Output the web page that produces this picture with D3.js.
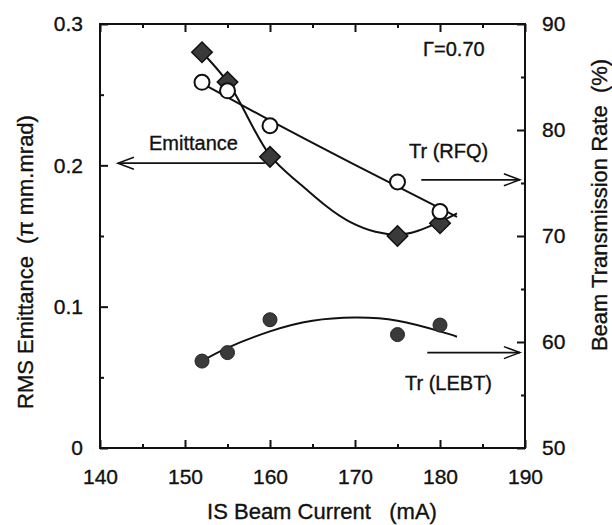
<!DOCTYPE html>
<html>
<head>
<meta charset="utf-8">
<script src="https://cdn.jsdelivr.net/npm/d3@7"></script>
<style>
  body { margin: 0; background: #fff; }
  svg text { font-family: "Liberation Sans", Arial, sans-serif; fill: #111; stroke: #111; stroke-width: 0.35px; }
</style>
</head>
<body>
<div id="content"></div>
<script>
// Chart data
const current = [152, 155, 160, 175, 180];          // IS beam current (mA)
const emittance = [0.280, 0.259, 0.206, 0.150, 0.159]; // RMS emittance (pi mm.mrad)
const trRFQ = [84.5, 83.7, 80.4, 75.1, 72.3];          // transmission RFQ (%)
const trLEBT = [58.2, 59.0, 62.1, 60.7, 61.6];         // transmission LEBT (%)

// hand drawn fit curves as they appear in the picture
const emitFitX = [152, 155, 160, 163.5, 169.4, 172.4, 175, 180, 182];
const emitFitY = [0.280, 0.259, 0.207, 0.187, 0.160, 0.153, 0.151, 0.160, 0.166];
const rfqFitX = [152, 160, 170, 182];
const rfqFitY = [84.4, 80.9, 76.7, 71.8];
const lebtFitX = [152, 155, 160, 165, 170, 175, 180, 182];
const lebtFitY = [58.2, 59.45, 61.0, 62.0, 62.3, 62.0, 61.0, 60.5];

const xTicks = [140, 150, 160, 170, 180, 190];
const leftTicks = [0, 0.1, 0.2, 0.3];
const rightTicks = [50, 60, 70, 80, 90];

const WIDTH = 612, HEIGHT = 525;
const X0 = 100, X1 = 525, Y0 = 448, Y1 = 24;

const svg = d3.select("#content").append("svg")
    .attr("width", WIDTH).attr("height", HEIGHT);

const x = d3.scaleLinear().domain([140, 190]).range([X0, X1]);
const yL = d3.scaleLinear().domain([0, 0.3]).range([Y0, Y1]);
const yR = d3.scaleLinear().domain([50, 90]).range([Y0, Y1]);

function styleAxis(g) {
    g.select(".domain").remove();
    g.selectAll("line").attr("stroke", "#111").attr("stroke-width", 2);
    g.selectAll("text").style("font-size", "21px").attr("fill", "#111");
}

// major + minor ticks, all pointing inward
svg.append("g").attr("transform", `translate(0,${Y0})`)
    .call(d3.axisBottom(x).tickValues(xTicks).tickSizeInner(-8).tickSizeOuter(0).tickPadding(21))
    .call(styleAxis);
svg.append("g").attr("transform", `translate(0,${Y0})`)
    .call(d3.axisBottom(x).tickValues([145, 155, 165, 175, 185]).tickSize(-4).tickFormat(""))
    .call(styleAxis);
svg.append("g").attr("transform", `translate(0,${Y1})`)
    .call(d3.axisTop(x).tickValues(xTicks).tickSize(-8).tickFormat(""))
    .call(styleAxis);
svg.append("g").attr("transform", `translate(0,${Y1})`)
    .call(d3.axisTop(x).tickValues([145, 155, 165, 175, 185]).tickSize(-4).tickFormat(""))
    .call(styleAxis);

svg.append("g").attr("transform", `translate(${X0},0)`)
    .call(d3.axisLeft(yL).tickValues(leftTicks).tickSizeInner(-8).tickSizeOuter(0).tickPadding(17)
        .tickFormat(d => d === 0 ? "0" : d3.format(".1f")(d)))
    .call(styleAxis);
svg.append("g").attr("transform", `translate(${X0},0)`)
    .call(d3.axisLeft(yL).tickValues([0.05, 0.15, 0.25]).tickSize(-4).tickFormat(""))
    .call(styleAxis);

svg.append("g").attr("transform", `translate(${X1},0)`)
    .call(d3.axisRight(yR).tickValues(rightTicks).tickSizeInner(-8).tickSizeOuter(0).tickPadding(17))
    .call(styleAxis);
svg.append("g").attr("transform", `translate(${X1},0)`)
    .call(d3.axisRight(yR).tickValues([55, 65, 75, 85]).tickSize(-4).tickFormat(""))
    .call(styleAxis);

// frame
svg.append("rect")
    .attr("x", X0).attr("y", Y1).attr("width", X1 - X0).attr("height", Y0 - Y1)
    .attr("fill", "none").attr("stroke", "#111").attr("stroke-width", 2);

// fit curves
const curve = d3.curveMonotoneX;
svg.append("path")
    .attr("d", d3.line().curve(curve)(emitFitX.map((v, i) => [x(v), yL(emitFitY[i])])))
    .attr("fill", "none").attr("stroke", "#111").attr("stroke-width", 2);
svg.append("path")
    .attr("d", d3.line().curve(curve)(rfqFitX.map((v, i) => [x(v), yR(rfqFitY[i])])))
    .attr("fill", "none").attr("stroke", "#111").attr("stroke-width", 2);
svg.append("path")
    .attr("d", d3.line().curve(d3.curveNatural)(lebtFitX.map((v, i) => [x(v), yR(lebtFitY[i])])))
    .attr("fill", "none").attr("stroke", "#111").attr("stroke-width", 2);

// markers
svg.append("g").selectAll("path")
    .data(current)
    .enter()
    .append("path")
    .attr("transform", (d, i) => `translate(${x(d)},${yL(emittance[i])}) rotate(45)`)
    .attr("d", d3.symbol(d3.symbolSquare, 210))
    .attr("fill", "#3a3a3a").attr("stroke", "#111").attr("stroke-width", 1.5);

svg.append("g").selectAll("circle")
    .data(current)
    .enter()
    .append("circle")
    .attr("cx", d => x(d))
    .attr("cy", (d, i) => yR(trRFQ[i]))
    .attr("r", 7.5)
    .attr("fill", "#fff").attr("stroke", "#111").attr("stroke-width", 2);

svg.append("g").selectAll("circle")
    .data(current)
    .enter()
    .append("circle")
    .attr("cx", d => x(d))
    .attr("cy", (d, i) => yR(trLEBT[i]))
    .attr("r", 7)
    .attr("fill", "#3a3a3a").attr("stroke", "#222").attr("stroke-width", 1);

// annotations and arrows
function arrow(xa, ya, xb, yb) {
    svg.append("line")
        .attr("x1", xa).attr("y1", ya).attr("x2", xb).attr("y2", yb)
        .attr("stroke", "#111").attr("stroke-width", 1.8);
    const dir = Math.sign(xb - xa);
    svg.append("path")
        .attr("d", `M${xb - dir * 16},${yb - 6} L${xb},${yb} L${xb - dir * 16},${yb + 6}`)
        .attr("fill", "none").attr("stroke", "#111").attr("stroke-width", 1.5);
}
arrow(x(159.4), yL(0.2015), x(142.1), yL(0.2015));
arrow(x(177.8), yR(75.3), x(189.4), yR(75.3));
arrow(x(178.5), yR(59.0), x(189.4), yR(59.0));

svg.append("text").attr("x", 149).attr("y", 150).style("font-size", "20px").text("Emittance");
svg.append("text").attr("x", 409).attr("y", 158).style("font-size", "20px").text("Tr (RFQ)");
svg.append("text").attr("x", 405).attr("y", 390).style("font-size", "20px").text("Tr (LEBT)");
svg.append("text").attr("x", 423).attr("y", 56).style("font-size", "20px").text("Γ=0.70");

// axis titles
svg.append("text")
    .attr("x", 322).attr("y", 519)
    .attr("text-anchor", "middle").style("font-size", "22px")
    .attr("xml:space", "preserve")
    .text("IS Beam Current   (mA)");
svg.append("text")
    .attr("transform", "translate(33,262) rotate(-90)")
    .attr("text-anchor", "middle").style("font-size", "22px")
    .attr("xml:space", "preserve")
    .text("RMS Emittance  (π mm.mrad)");
svg.append("text")
    .attr("transform", "translate(607,205) rotate(-90)")
    .attr("text-anchor", "middle").style("font-size", "22px")
    .attr("xml:space", "preserve")
    .text("Beam Transmission Rate  (%)");
</script>
</body>
</html>
